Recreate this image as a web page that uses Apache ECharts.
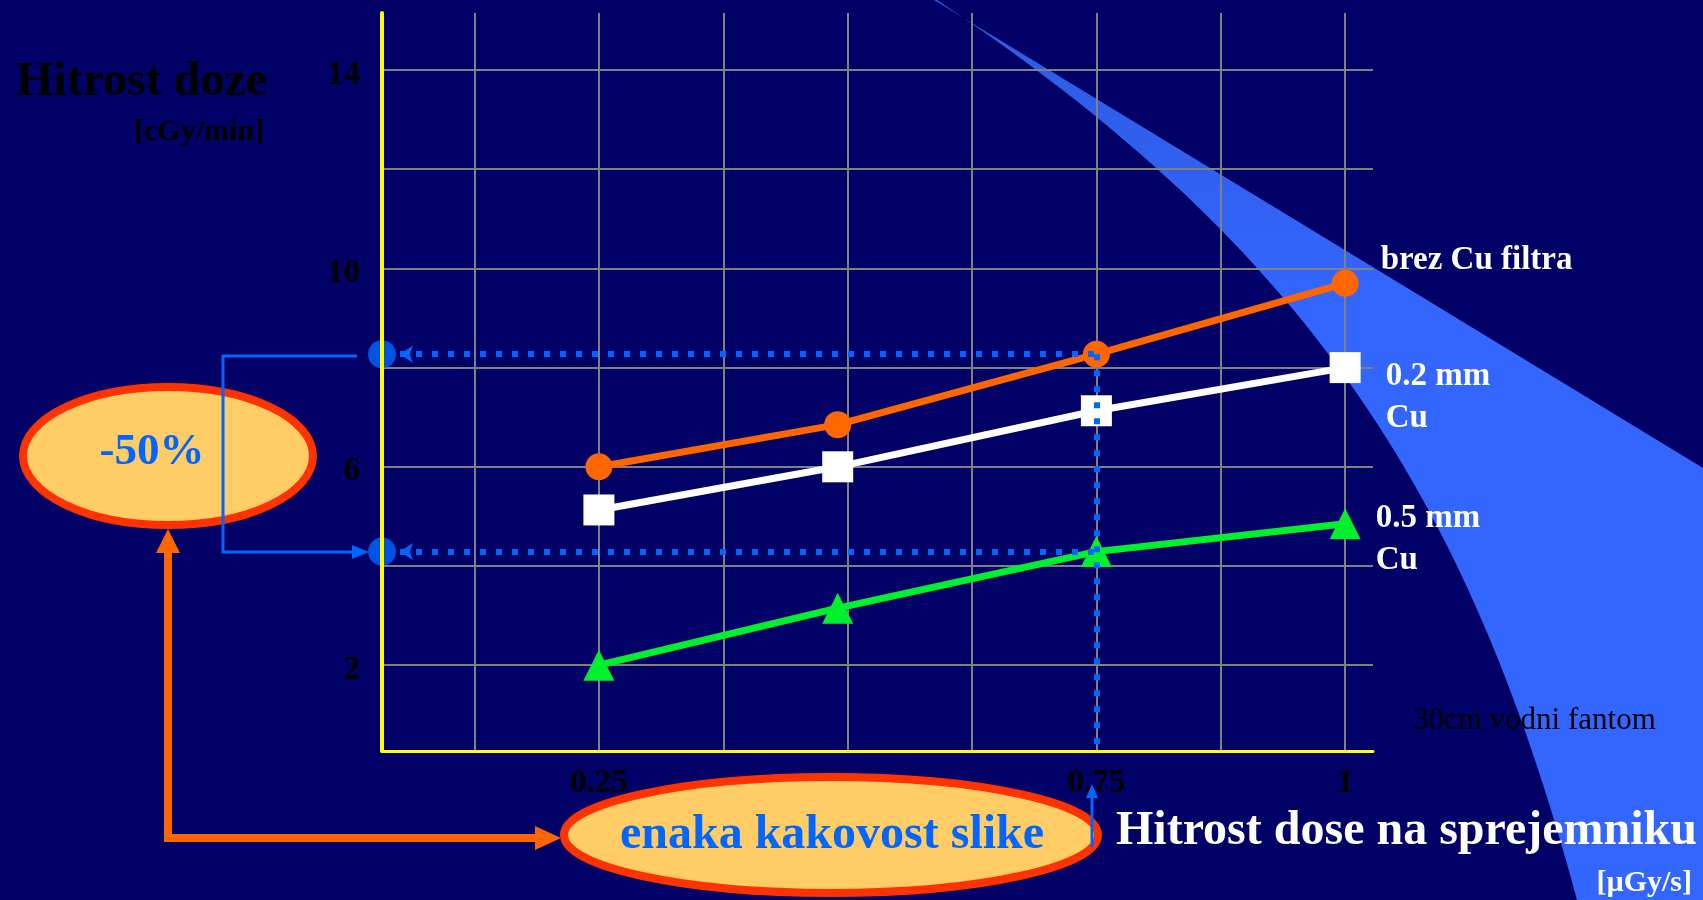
<!DOCTYPE html>
<html>
<head>
<meta charset="utf-8">
<script src="https://cdn.jsdelivr.net/npm/echarts@6/dist/echarts.min.js"></script>
<style>
html,body{margin:0;padding:0;background:#000066;}
#c{width:1703px;height:900px;}
</style>
</head>
<body>
<div id="c"></div>
<script>
// ---- data ----
const xValues = [0.25, 0.49, 0.75, 1.0];          // Hitrost dose na sprejemniku [µGy/s]
const brezCu  = [6.0, 6.85, 8.27, 9.70];          // brez Cu filtra
const cu02    = [5.13, 6.0, 7.13, 8.0];           // 0.2 mm Cu
const cu05    = [2.0, 3.15, 4.29, 4.85];          // 0.5 mm Cu
const seriesNames = ['brez Cu filtra', '0.2 mm\nCu', '0.5 mm\nCu'];
const xGridValues = [0.125, 0.25, 0.375, 0.5, 0.625, 0.75, 0.875, 1];
const xTickLabels = [0.25, 0.75, 1];
const yGridValues = [2, 4, 6, 8, 10, 12, 14];
const yTickLabels = [2, 6, 10, 14];
const xRange = [0.032, 1.028];
const yRange = [0.27, 15.15];
const readIndex = 2;  // reading at x = 0.75

// ---- layout ----
const G = {left: 382, right: 330, top: 13, bottom: 149};
const W = 1703, H = 900;
const pxPerX = (W - G.left - G.right) / (xRange[1] - xRange[0]);
const arrowStartX = xRange[0] + 18 / pxPerX;
const serif = '"Liberation Serif", "Times New Roman", serif';

// wedge (decorative beam)
function cubic(p0, p1, p2, p3, n) {
  const pts = [];
  for (let i = 0; i <= n; i++) {
    const t = i / n, u = 1 - t;
    pts.push([
      u*u*u*p0[0] + 3*u*u*t*p1[0] + 3*u*t*t*p2[0] + t*t*t*p3[0],
      u*u*u*p0[1] + 3*u*u*t*p1[1] + 3*u*t*t*p2[1] + t*t*t*p3[1]
    ]);
  }
  return pts;
}
const leftEdge = cubic([937, 0], [1312, 250], [1469, 500], [1577, 900], 60).reverse();
const wedgePts = [[934, 0], [1703, 468], [1703, 900]].concat(leftEdge);

function lineSeries(name, values, color, symbol, size, offset) {
  return {
    type: 'line', name: name,
    data: xValues.map((x, i) => [x, values[i]]),
    symbol: symbol, symbolSize: size, showAllSymbol: true,
    lineStyle: {color: color, width: 7},
    itemStyle: {color: color, borderWidth: 0},
    label: {
      show: true, position: 'right', distance: 0, offset: offset,
      formatter: p => p.dataIndex === values.length - 1 ? name : '',
      color: '#FFFFFF', fontFamily: serif, fontWeight: 'bold', fontSize: 33,
      lineHeight: 42, align: 'left'
    },
    emphasis: {disabled: true}, silent: true, z: 3
  };
}

function txt(x, y, text, size, weight, fill, align) {
  return {type: 'text', z: 101, silent: true,
    style: {x: x, y: y, text: text, fontSize: size, fontWeight: weight, fontFamily: serif,
            fill: fill, align: align, verticalAlign: 'middle'}};
}

const chart = echarts.init(document.getElementById('c'), null, {renderer: 'canvas'});
chart.setOption({
  backgroundColor: '#000066',
  animation: false,
  grid: {left: G.left, right: G.right, top: G.top, bottom: G.bottom, containLabel: false, outerBoundsMode: 'none'},
  xAxis: {
    type: 'value', min: xRange[0], max: xRange[1],
    axisLine: {show: true, onZero: false, lineStyle: {color: '#FFFF00', width: 3}},
    axisTick: {show: false, customValues: xGridValues},
    splitLine: {show: true, lineStyle: {color: '#808080', width: 2}},
    axisLabel: {
      show: true, customValues: xTickLabels, margin: 16,
      color: '#000000', fontFamily: serif, fontWeight: 'bold', fontSize: 33
    }
  },
  yAxis: [{
    type: 'value', min: yRange[0], max: yRange[1],
    axisLine: {show: false},
    axisTick: {show: false, customValues: yGridValues},
    splitLine: {show: true, lineStyle: {color: '#808080', width: 2}},
    axisLabel: {
      show: true, customValues: yTickLabels, margin: 22,
      verticalAlign: 'top', lineHeight: 10,
      color: '#000000', fontFamily: serif, fontWeight: 'bold', fontSize: 33
    }
  }, {
    type: 'value', min: yRange[0], max: yRange[1], position: 'left', z: 10,
    axisLine: {show: true, lineStyle: {color: '#FFFF00', width: 4}},
    axisTick: {show: false}, axisLabel: {show: false}, splitLine: {show: false}
  }],
  series: [
    lineSeries(seriesNames[0], brezCu, '#FF6600', 'circle', 27, [22, -23]),
    lineSeries(seriesNames[1], cu02, '#FFFFFF', 'rect', 31, [25, 30]),
    lineSeries(seriesNames[2], cu05, '#00F030', 'triangle', 31, [15, 16]),
    {
      type: 'scatter', silent: true, clip: false, z: 4,
      data: [[xRange[0], brezCu[readIndex]], [xRange[0], cu05[readIndex]]],
      symbol: 'circle', symbolSize: 28, itemStyle: {color: '#0066FF'},
      markLine: {
        silent: true, animation: false, z: 5,
        symbol: ['arrow', 'none'], symbolSize: [13, 13],
        label: {show: false},
        lineStyle: {color: '#0066FF', width: 6, type: [6, 10], cap: 'butt', opacity: 1},
        emphasis: {disabled: true},
        data: [
          [{coord: [arrowStartX, brezCu[readIndex]]}, {coord: [xValues[readIndex], brezCu[readIndex]]}],
          [{coord: [arrowStartX, cu05[readIndex]]}, {coord: [xValues[readIndex], cu05[readIndex]]}],
          [{coord: [xValues[readIndex], brezCu[readIndex]], symbol: 'none'}, {coord: [xValues[readIndex], yRange[0]], symbol: 'none'}]
        ]
      }
    }
  ],
  graphic: [
    // beam
    {type: 'polygon', z: -1, silent: true, shape: {points: wedgePts},
     style: {fill: {type: 'linear', x: 0, y: 0, x2: 0, y2: 1, global: false,
       colorStops: [{offset: 0, color: '#2C5AE0'}, {offset: 0.35, color: '#3366FF'}, {offset: 1, color: '#3366FF'}]}}},
    // axis titles and notes
    txt(16, 83, 'Hitrost doze', 48, 'bold', '#000000', 'left'),
    txt(264, 132, '[cGy/min]', 30, 'bold', '#000000', 'right'),
    txt(1116, 832, 'Hitrost dose na sprejemniku', 48, 'bold', '#FFFFFF', 'left'),
    txt(1692, 883, '[\u00B5Gy/s]', 30, 'bold', '#FFFFFF', 'right'),
    txt(1413, 721, '30cm vodni fantom', 31, 'normal', '#000000', 'left'),
    // -50% ellipse
    {type: 'ellipse', z: 100, silent: true, shape: {cx: 168, cy: 456, rx: 145, ry: 69},
     style: {fill: '#FFCC66', stroke: '#FF3300', lineWidth: 8}},
    txt(152, 452, '-50%', 45, 'bold', '#0066FF', 'center'),
    // blue bracket
    {type: 'polyline', z: 102, silent: true, shape: {points: [[357, 356], [223, 356], [223, 552], [356, 552]]},
     style: {stroke: '#0066FF', lineWidth: 3, fill: null}},
    {type: 'polygon', z: 102, silent: true, shape: {points: [[352, 545], [369, 552], [352, 559]]}, style: {fill: '#0066FF'}},
    // orange arrow
    {type: 'polyline', z: 100, silent: true, shape: {points: [[168, 552], [168, 838], [537, 838]]},
     style: {stroke: '#FF6600', lineWidth: 8, fill: null, lineJoin: 'miter'}},
    {type: 'polygon', z: 100, silent: true, shape: {points: [[156, 553], [168, 529], [180, 553]]}, style: {fill: '#FF6600'}},
    {type: 'polygon', z: 100, silent: true, shape: {points: [[535, 826], [561, 838], [535, 850]]}, style: {fill: '#FF6600'}},
    // enaka kakovost slike ellipse
    {type: 'ellipse', z: 100, silent: true, shape: {cx: 831, cy: 835, rx: 267, ry: 58},
     style: {fill: '#FFCC66', stroke: '#FF3300', lineWidth: 8}},
    txt(832, 836, 'enaka kakovost slike', 48, 'bold', '#0066FF', 'center'),
    // thin blue arrow to 0.75
    {type: 'line', z: 102, silent: true, shape: {x1: 1092, y1: 847, x2: 1092, y2: 796}, style: {stroke: '#0066FF', lineWidth: 3}},
    {type: 'polygon', z: 102, silent: true, shape: {points: [[1086, 798], [1092, 784], [1098, 798]]}, style: {fill: '#0066FF'}}
  ]
});
</script>
</body>
</html>
